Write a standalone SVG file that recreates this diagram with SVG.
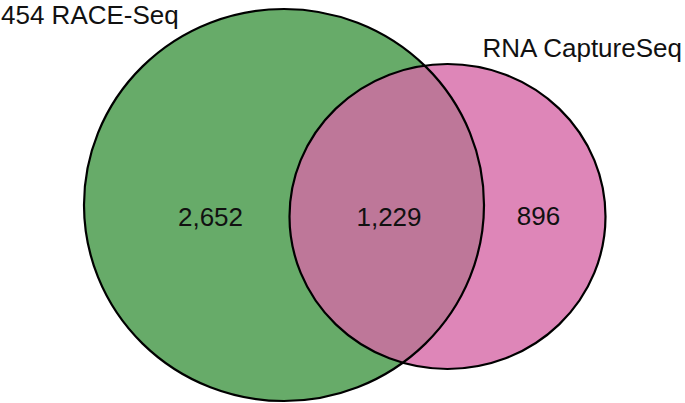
<svg xmlns="http://www.w3.org/2000/svg" width="685" height="403" viewBox="0 0 685 403">
  <style>
    .lbl { font-family: "Liberation Sans", Arial, Helvetica, sans-serif; font-size: 26px; fill: #111; }
    .num { text-anchor: middle; }
    .edge { fill: none; stroke: #000; stroke-width: 2.2; }
  </style>
  <defs>
    <clipPath id="clipGreen">
      <ellipse cx="284" cy="205" rx="200" ry="196"/>
    </clipPath>
  </defs>
  <rect width="685" height="403" fill="#ffffff"/>
  <g id="set-race">
    <ellipse cx="284" cy="205" rx="200" ry="196" fill="#67ab69"/>
  </g>
  <g id="set-capture">
    <ellipse cx="447.5" cy="216.5" rx="158" ry="152.5" fill="#de86b8"/>
  </g>
  <g id="overlap">
    <ellipse cx="447.5" cy="216.5" rx="158" ry="152.5" fill="#be7799" clip-path="url(#clipGreen)"/>
  </g>
  <g id="outlines">
    <ellipse class="edge" cx="284" cy="205" rx="200" ry="196"/>
    <ellipse class="edge" cx="447.5" cy="216.5" rx="158" ry="152.5"/>
  </g>
  <g id="labels">
    <text class="lbl" x="1" y="24">454 RACE-Seq</text>
    <text class="lbl" x="482.5" y="57">RNA CaptureSeq</text>
    <text class="lbl num" x="210.5" y="226">2,652</text>
    <text class="lbl num" x="389" y="226">1,229</text>
    <text class="lbl num" x="538.5" y="225">896</text>
  </g>
</svg>
